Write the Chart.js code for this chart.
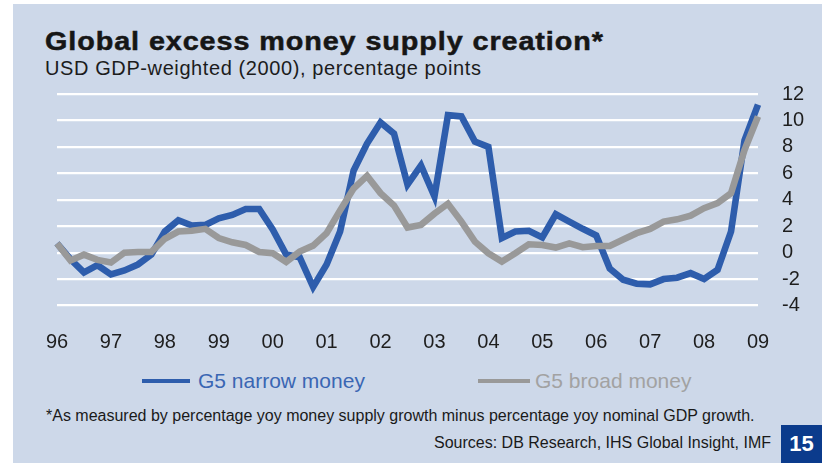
<!DOCTYPE html>
<html>
<head>
<meta charset="utf-8">
<script src="https://cdn.jsdelivr.net/npm/chart.js@4.4.1/dist/chart.umd.min.js"></script>
<style>
  html, body { margin: 0; padding: 0; background: #ffffff; }
  body { width: 822px; height: 463px; position: relative; overflow: hidden; font-family: "Liberation Sans", Arial, sans-serif; }
  #panel { position: absolute; left: 13px; top: 4px; width: 809px; height: 459px; background: #CDD8E9; }
  .abs { position: absolute; white-space: nowrap; }
  #title { left: 45px; top: 29px; font-size: 25px; line-height: 25px; font-weight: bold; color: #161616; letter-spacing: 0.8px; transform: scaleX(1.15); transform-origin: 0 0; -webkit-text-stroke: 0.5px #161616; }
  #subtitle { left: 45px; top: 58px; font-size: 20px; line-height: 20px; color: #1c1c1c; letter-spacing: 0.6px; }
  #chartWrap { position: absolute; left: 13px; top: 80px; width: 809px; height: 280px; }
  .legline { position: absolute; height: 4px; }
  .legtext { position: absolute; font-size: 21px; line-height: 21px; }
  #foot { left: 46px; top: 408px; font-size: 16px; line-height: 16px; color: #1a1a1a; }
  #src { right: 51px; top: 435px; font-size: 16px; line-height: 16px; color: #1a1a1a; }
  #pg { left: 781px; top: 425px; width: 41px; height: 38px; background: #0B3B8C; color: #fff; font-weight: bold; font-size: 22px; line-height: 38px; text-align: center; }
</style>
</head>
<body>
<div id="panel"></div>
<div id="title" class="abs">Global excess money supply creation*</div>
<div id="subtitle" class="abs">USD GDP-weighted (2000), percentage points</div>
<div id="chartWrap"><canvas id="c"></canvas></div>
<div id="legend"></div>
<div id="foot" class="abs">*As measured by percentage yoy money supply growth minus percentage yoy nominal GDP growth.</div>
<div id="src" class="abs">Sources: DB Research, IHS Global Insight, IMF</div>
<div id="pg" class="abs">15</div>
<script>
// Year tick labels (one per year, quarterly data from Q1 1996 to Q1 2009)
const yearLabels = ['96','97','98','99','00','01','02','03','04','05','06','07','08','09'];
const quarters = ['Q1','Q2','Q3','Q4'];

// Series names
const seriesNames = ['G5 narrow money', 'G5 broad money'];

// G5 narrow money (quarterly, percentage points)
const narrowMoney = [
  0.7, -0.5, -1.5, -0.95, -1.65, -1.35, -0.9, -0.15,
  1.6, 2.45, 2.05, 2.1, 2.6, 2.85, 3.3, 3.3,
  1.75, -0.15, -0.35, -2.6, -0.9, 1.6, 6.2, 8.25,
  9.85, 9.0, 5.15, 6.6, 4.25, 10.4, 10.3, 8.4,
  8.0, 1.1, 1.6, 1.65, 1.15, 2.9, 2.35, 1.8,
  1.3, -1.2, -2.05, -2.35, -2.4, -2.0, -1.9, -1.55,
  -2.0, -1.3, 1.6, 8.5, 11.2
];

// G5 broad money (quarterly, percentage points)
const broadMoney = [
  0.7, -0.6, -0.15, -0.55, -0.75, 0.0, 0.05, 0.05,
  1.05, 1.6, 1.65, 1.8, 1.1, 0.78, 0.58, 0.05,
  -0.05, -0.7, 0.08, 0.53, 1.47, 3.2, 4.85, 5.8,
  4.5, 3.56, 1.9, 2.1, 2.95, 3.7, 2.35, 0.83,
  -0.05, -0.68, -0.05, 0.63, 0.58, 0.38, 0.7, 0.41,
  0.5, 0.51, 1.0, 1.47, 1.8, 2.35, 2.52, 2.8,
  3.36, 3.74, 4.49, 7.77, 10.3
];

// Y axis ticks
const yMin = -4, yMax = 12, yStep = 2;

const colors = ['#2E5DAC', '#999999'];
const legendTextColors = ['#3A66B3', '#A2A2A2'];

// Build quarterly category labels from the year labels
const categories = [];
for (let i = 0; i < narrowMoney.length; i++) {
  categories.push(yearLabels[Math.floor(i / 4)] + ' ' + quarters[i % 4]);
}

const FONT = '"Liberation Sans", Arial, sans-serif';
// desired plot-area edges inside the canvas (canvas top is at page y=80)
const TARGET_TOP = 14, TARGET_BOTTOM = 225.5;

const chart = new Chart(document.getElementById('c'), {
  type: 'line',
  data: {
    labels: categories,
    datasets: [
      { label: seriesNames[0], data: narrowMoney, borderColor: colors[0], backgroundColor: colors[0], borderWidth: 6.6, pointRadius: 0, tension: 0, order: 2, borderJoinStyle: 'miter' },
      { label: seriesNames[1], data: broadMoney, borderColor: colors[1], backgroundColor: colors[1], borderWidth: 6.6, pointRadius: 0, tension: 0, order: 1, borderJoinStyle: 'miter' }
    ]
  },
  options: {
    responsive: true,
    maintainAspectRatio: false,
    animation: false,
    events: [],
    layout: { padding: { left: 44, right: 0, top: 14, bottom: 5 } },
    plugins: { legend: { display: false }, tooltip: { enabled: false }, title: { display: false } },
    scales: {
      x: {
        type: 'category',
        offset: false,
        grid: { display: false, drawTicks: false },
        border: { display: false },
        ticks: {
          autoSkip: false, maxRotation: 0, minRotation: 0, padding: 25,
          color: '#1e1e1e', font: { family: FONT, size: 20 },
          callback: function(v, i) { return i % 4 === 0 ? yearLabels[i / 4] : null; }
        }
      },
      y: {
        position: 'right',
        min: yMin, max: yMax,
        grid: { color: '#ffffff', lineWidth: 2.2, drawTicks: false },
        border: { display: false },
        ticks: { stepSize: yStep, autoSkip: false, padding: 24, color: '#1e1e1e', font: { family: FONT, size: 20 } },
        afterFit: function(s) { s.width = 64; s.paddingTop = 0; s.paddingBottom = 0; }
      }
    }
  }
});

// nudge layout padding so that the plot area lands where the reference has it
for (let k = 0; k < 3; k++) {
  const ca = chart.chartArea;
  const p = chart.config.options.layout.padding;
  chart.config.options.layout.padding = {
    left: p.left, right: p.right,
    top: p.top + (TARGET_TOP - ca.top),
    bottom: p.bottom + (ca.bottom - TARGET_BOTTOM)
  };
  chart.update();
}

// HTML legend
const legendPos = [ { line: [142, 48], text: 198 }, { line: [478, 52], text: 535 } ];
const leg = document.getElementById('legend');
seriesNames.forEach(function(name, k) {
  const l = document.createElement('div');
  l.className = 'legline';
  l.style.left = legendPos[k].line[0] + 'px';
  l.style.width = legendPos[k].line[1] + 'px';
  l.style.top = '379px';
  l.style.background = colors[k];
  leg.appendChild(l);
  const t = document.createElement('div');
  t.className = 'legtext abs';
  t.style.left = legendPos[k].text + 'px';
  t.style.top = '370px';
  t.style.color = legendTextColors[k];
  t.textContent = name;
  leg.appendChild(t);
});
</script>
</body>
</html>
